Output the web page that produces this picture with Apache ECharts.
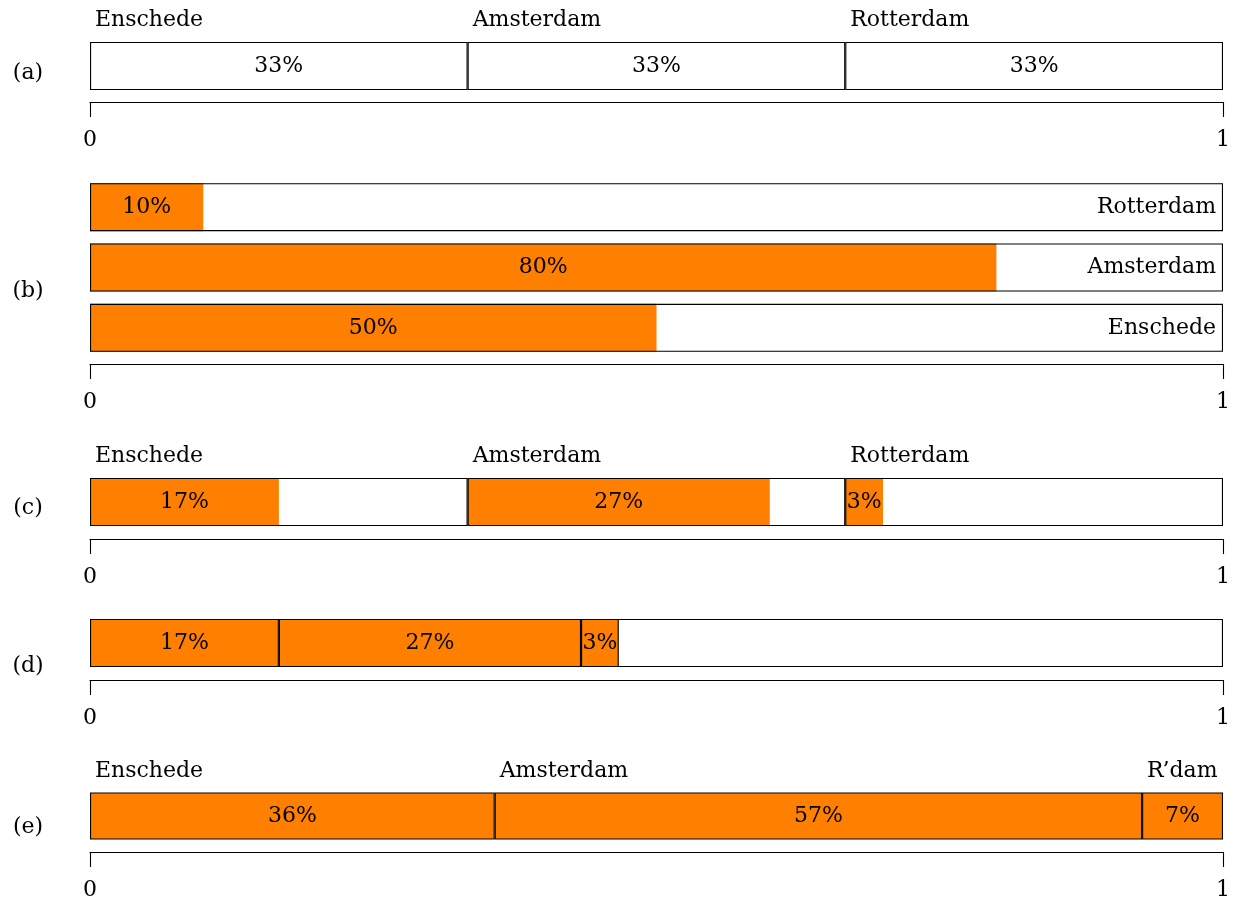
<!DOCTYPE html>
<html>
<head>
<meta charset="utf-8">
<style>
  html, body { margin: 0; padding: 0; background: #fff; }
  #chart { width: 1233px; height: 901px; }
</style>
<script src="https://cdn.jsdelivr.net/npm/echarts@6/dist/echarts.min.js"></script>
</head>
<body>
<div id="chart"></div>
<script>
// City names and the short form used where space is tight
const cities = ['Enschede', 'Amsterdam', 'Rotterdam'];
const citiesShort = ['Enschede', 'Amsterdam', 'R\u2019dam'];
// (a) share of each city
const prior = [0.3333, 0.3333, 0.3334];
// (b) orange share within each city
const orangeShare = [0.5, 0.8, 0.1];
// (c)/(d) joint share: city and orange
const joint = [0.1667, 0.2667, 0.0333];
// (e) orange share normalised over the orange part
const posterior = [0.3572, 0.5714, 0.0714];
// axis tick labels
const axisTicks = ['0', '1'];

const FONT = 'DejaVu Serif';
const FS = 22;
const ORANGE = '#ff7f00';
const BORDER = 1.1;

const pct = v => Math.round(v * 100) + '%';

// panel geometry: grid top, grid height, axis offset below grid
const panels = [
  { top: 42, height: 48, offset: 12 },   // a
  { top: 177, height: 181, offset: 6 },  // b
  { top: 478, height: 48, offset: 13 },  // c
  { top: 619, height: 48, offset: 13 },  // d
  { top: 793, height: 48, offset: 13 }   // e
];

const grids = panels.map(p => ({ left: 90, right: 10, top: p.top, height: p.height }));
const xAxes = panels.map((p, i) => ({
  gridIndex: i, type: 'value', min: 0, max: 1, interval: 1,
  position: 'bottom', offset: p.offset,
  axisLine: { show: true, lineStyle: { color: '#000', width: BORDER } },
  axisTick: { show: true, inside: false, length: 15, lineStyle: { color: '#000', width: BORDER } },
  splitLine: { show: false },
  axisLabel: {
    show: true, margin: 27, color: '#000', fontFamily: FONT, fontSize: FS,
    formatter: v => axisTicks[Math.round(v)]
  }
}));
const yAxes = panels.map((p, i) => ({
  gridIndex: i, type: 'category',
  data: i === 1 ? cities : ['row'],
  show: false, boundaryGap: true
}));

const txt = { color: '#000', fontFamily: FONT, fontSize: FS };
const series = [];
const base = (gi, extra) => Object.assign({
  type: 'bar', xAxisIndex: gi, yAxisIndex: gi, barWidth: 48, barGap: '-100%',
  animation: false, silent: true
}, extra);
const nameLabel = name => Object.assign({
  show: true, position: [5, -22], align: 'left', verticalAlign: 'middle',
  formatter: () => name
}, txt);
const pctLabel = Object.assign({
  show: true, position: 'inside', formatter: p => pct(p.value)
}, txt);

// (a) three equal white segments
cities.forEach((c, i) => {
  series.push(base(0, {
    stack: 'a', data: [prior[i]],
    itemStyle: { color: '#fff', borderColor: '#000', borderWidth: BORDER },
    label: pctLabel
  }));
});
cities.forEach((c, i) => {
  series.push(base(0, {
    stack: 'aNames', data: [prior[i]],
    itemStyle: { color: 'rgba(0,0,0,0)' },
    label: nameLabel(c)
  }));
});

// (b) one bar per city, orange part of the whole
series.push(base(1, {
  stack: 'bFill', data: orangeShare,
  itemStyle: { color: ORANGE },
  label: pctLabel
}));
series.push(base(1, {
  stack: 'bFrame', data: cities.map(() => 1), z: 3,
  itemStyle: { color: 'rgba(0,0,0,0)', borderColor: '#000', borderWidth: BORDER },
  label: Object.assign({
    show: true, position: 'insideRight', distance: 7,
    formatter: p => cities[p.dataIndex]
  }, txt)
}));

// (c) city segments, each with its orange part at the start
cities.forEach((c, i) => {
  series.push(base(2, {
    stack: 'cFill', data: [joint[i]],
    itemStyle: { color: ORANGE },
    label: pctLabel
  }));
  series.push(base(2, {
    stack: 'cFill', data: [prior[i] - joint[i]],
    itemStyle: { color: 'rgba(0,0,0,0)' },
    label: { show: false }
  }));
});
cities.forEach((c, i) => {
  series.push(base(2, {
    stack: 'cFrame', data: [prior[i]], z: 3,
    itemStyle: { color: 'rgba(0,0,0,0)', borderColor: '#000', borderWidth: BORDER },
    label: nameLabel(c)
  }));
});

// (d) orange parts stacked on one full bar
series.push(base(3, {
  stack: 'dFrame', data: [1],
  itemStyle: { color: '#fff', borderColor: '#000', borderWidth: BORDER },
  label: { show: false }
}));
cities.forEach((c, i) => {
  series.push(base(3, {
    stack: 'dFill', data: [joint[i]],
    itemStyle: { color: ORANGE, borderColor: '#000', borderWidth: BORDER },
    label: pctLabel
  }));
});

// (e) orange parts rescaled to the full width
citiesShort.forEach((c, i) => {
  series.push(base(4, {
    stack: 'eFill', data: [posterior[i]],
    itemStyle: { color: ORANGE, borderColor: '#000', borderWidth: BORDER },
    label: pctLabel
  }));
});
citiesShort.forEach((c, i) => {
  series.push(base(4, {
    stack: 'eNames', data: [posterior[i]],
    itemStyle: { color: 'rgba(0,0,0,0)' },
    label: nameLabel(c)
  }));
});

// panel letters
const letters = [['(a)', 73], ['(b)', 291], ['(c)', 508], ['(d)', 666], ['(e)', 827]];
const graphic = letters.map(([t, y]) => ({
  type: 'text', x: 28, y: y, silent: true,
  style: { text: t, fill: '#000', font: FS + 'px "' + FONT + '"', align: 'center', verticalAlign: 'middle' }
}));

const chart = echarts.init(document.getElementById('chart'), null, { renderer: 'canvas' });
chart.setOption({
  backgroundColor: '#fff',
  animation: false,
  grid: grids,
  xAxis: xAxes,
  yAxis: yAxes,
  series: series,
  graphic: graphic
});
</script>
</body>
</html>
